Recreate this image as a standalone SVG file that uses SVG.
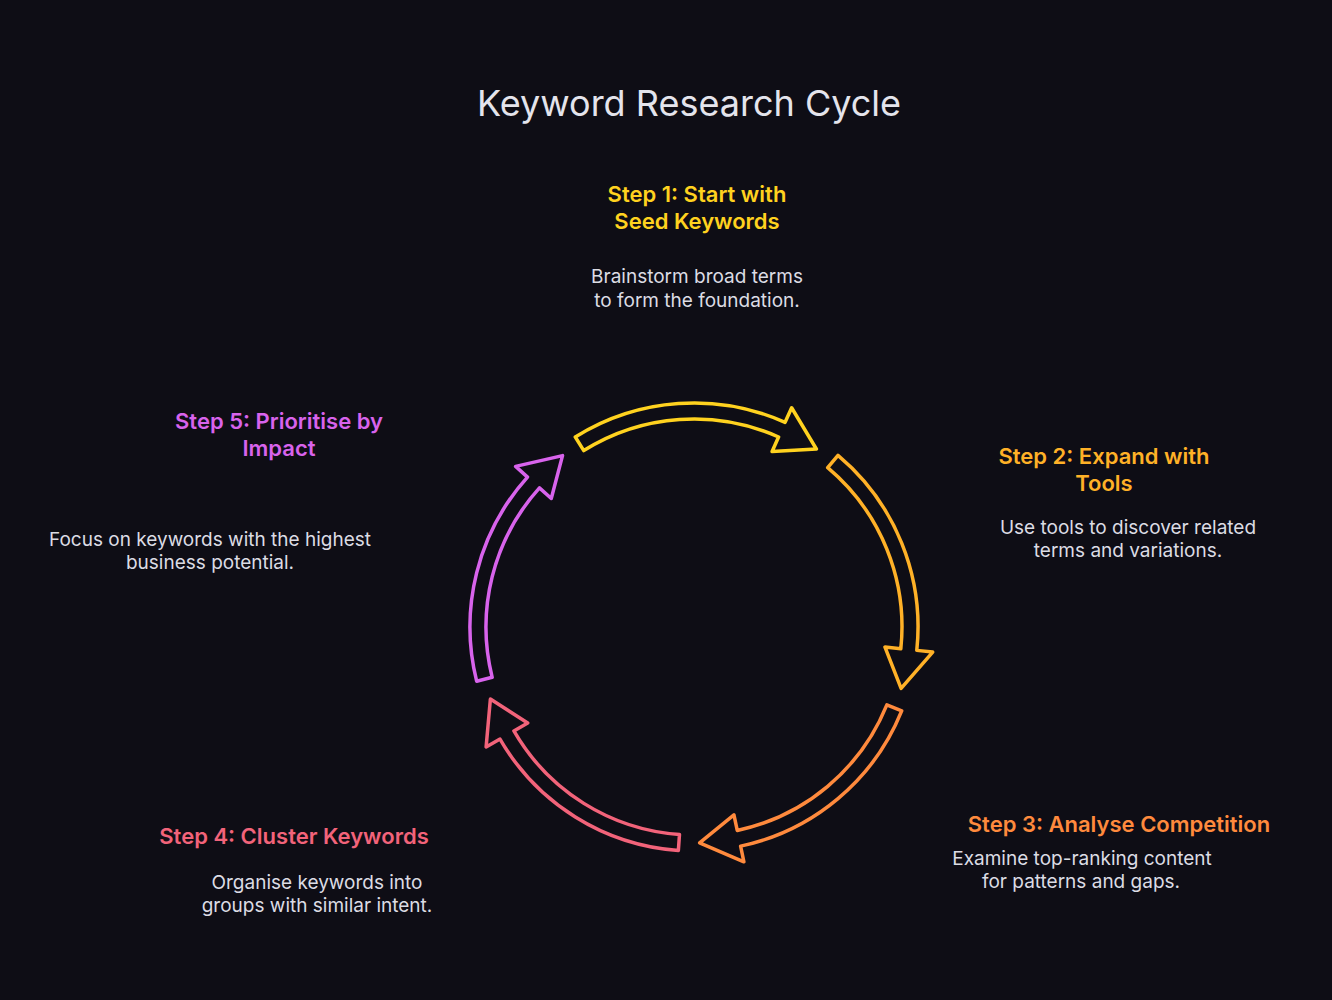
<svg xmlns="http://www.w3.org/2000/svg" width="1332" height="1000" viewBox="0 0 1332 1000">
<defs>
<style>
text{font-family:Inter,"Noto Sans",sans-serif;text-anchor:middle}
.t{font-size:36px;fill:#e4e4ec}
.h{font-size:22px;font-weight:600}
.d{font-size:19px;fill:#dcdce4}
.a{fill:none;stroke-width:3.5;stroke-linejoin:round}
</style>
<path id="arr" d="M224,0 A224,224 0 0 1 125.3,185.7 L134.2,199 L86.1,198.1 L107.4,159.2 L116.3,172.4 A208,208 0 0 0 208,0 Z"/>
</defs>
<rect width="1332" height="1000" fill="#0e0d15"/>
<text class="t" x="689" y="116">Keyword Research Cycle</text>
<g id="connectors">
<use href="#arr" class="a" stroke="#FFD21F" transform="translate(694,627) rotate(-122)"/>
<use href="#arr" class="a" stroke="#FFB127" transform="translate(694,627) rotate(-50)"/>
<use href="#arr" class="a" stroke="#FF8A3D" transform="translate(694,627) rotate(22)"/>
<use href="#arr" class="a" stroke="#F2637A" transform="translate(694,627) rotate(94)"/>
<use href="#arr" class="a" stroke="#D863EC" transform="translate(694,627) rotate(166)"/>
</g>
<g id="step1"><text class="h" fill="#FFD21F" x="697" y="202">Step 1: Start with</text><text class="h" fill="#FFD21F" x="697" y="229">Seed Keywords</text>
<text class="d" x="697" y="283">Brainstorm broad terms</text><text class="d" x="697" y="307">to form the foundation.</text></g>
<g id="step2"><text class="h" fill="#FFB127" x="1104" y="464">Step 2: Expand with</text><text class="h" fill="#FFB127" x="1104" y="491">Tools</text>
<text class="d" x="1128" y="534">Use tools to discover related</text><text class="d" x="1128" y="557">terms and variations.</text></g>
<g id="step3"><text class="h" fill="#FF8A3D" x="1119" y="832">Step 3: Analyse Competition</text>
<text class="d" x="1082" y="865">Examine top-ranking content</text><text class="d" x="1081" y="888">for patterns and gaps.</text></g>
<g id="step4"><text class="h" fill="#F2637A" x="294" y="844">Step 4: Cluster Keywords</text>
<text class="d" x="317" y="889">Organise keywords into</text><text class="d" x="317" y="912">groups with similar intent.</text></g>
<g id="step5"><text class="h" fill="#D863EC" x="279" y="429">Step 5: Prioritise by</text><text class="h" fill="#D863EC" x="279" y="456">Impact</text>
<text class="d" x="210" y="546">Focus on keywords with the highest</text><text class="d" x="210" y="569">business potential.</text></g>
</svg>
